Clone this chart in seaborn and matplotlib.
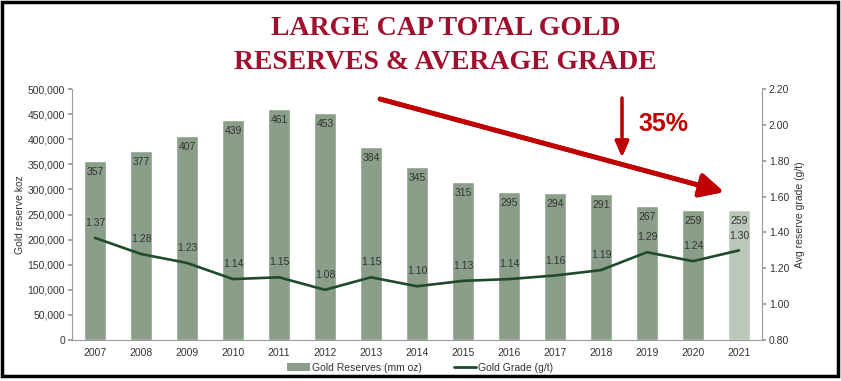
import numpy as np
import pandas as pd
import matplotlib
matplotlib.use("Agg")
import matplotlib.pyplot as plt
import seaborn as sns
from matplotlib.patches import Rectangle, Patch
from matplotlib.lines import Line2D

# data
years = ["2007", "2008", "2009", "2010", "2011", "2012", "2013", "2014",
         "2015", "2016", "2017", "2018", "2019", "2020", "2021"]
reserves = [357, 377, 407, 439, 461, 453, 384, 345, 315, 295, 294, 291, 267, 259, 259]
grade = [1.37, 1.28, 1.23, 1.14, 1.15, 1.08, 1.15, 1.10, 1.13, 1.14, 1.16, 1.19, 1.29, 1.24, 1.30]

BAR = "#8a9e8a"
BAR_LAST = "#bac7ba"
LINE = "#1f4a2b"
RED = "#c00000"
TITLE_RED = "#a0102e"
TXT = "#333333"

sns.set_theme(style="white")
plt.rcParams["font.family"] = ["Liberation Sans", "DejaVu Sans"]

df = pd.DataFrame({"year": years, "reserves_koz": [r * 1000 for r in reserves]})
palette = [BAR] * (len(years) - 1) + [BAR_LAST]

fig = plt.figure(figsize=(8.41, 3.81), dpi=100)
ax = fig.add_axes([0.0856, 0.1076, 0.8204, 0.6584])

sns.barplot(data=df, x="year", y="reserves_koz", hue="year", palette=palette,
            legend=False, width=0.48, saturation=1, ax=ax)
ax.set_ylim(0, 500000)
ax.set_xlim(-0.5, 14.5)
ax.set_yticks(np.arange(0, 500001, 50000))
ax.set_yticklabels([f"{v:,}" for v in range(0, 500001, 50000)])
ax.set_xlabel("")
ax.set_ylabel("Gold reserve koz", fontsize=7.5, color=TXT, labelpad=2)

for i, r in enumerate(reserves):
    ax.text(i, r * 1000 - 12000, str(r), ha="center", va="top", fontsize=7.5, color=TXT)

# minor ticks between the categories on x
ax.set_xticks(np.arange(-0.5, 15, 1), minor=True)
ax.tick_params(axis="x", which="major", length=0, labelsize=7.5, colors=TXT, pad=6)
ax.tick_params(axis="x", which="minor", length=3, color="#999999", direction="out")
ax.tick_params(axis="y", length=3, color="#999999", labelsize=7.5, colors=TXT, pad=2)
for side in ["top", "right"]:
    ax.spines[side].set_visible(False)
for side in ["left", "bottom"]:
    ax.spines[side].set_color("#999999")
    ax.spines[side].set_linewidth(0.8)

ax2 = ax.twinx()
sns.lineplot(x=np.arange(len(grade)), y=grade, color=LINE, linewidth=1.9, ax=ax2)
ax2.set_ylim(0.8, 2.2)
ax2.set_yticks(np.arange(0.8, 2.21, 0.2))
ax2.set_yticklabels([f"{v:.2f}" for v in np.arange(0.8, 2.21, 0.2)])
ax2.set_ylabel("Avg reserve grade (g/t)", fontsize=7.5, color=TXT, labelpad=4)
ax2.tick_params(axis="y", length=3, color="#999999", labelsize=7.5, colors=TXT, pad=2)
for side in ["top", "left", "bottom"]:
    ax2.spines[side].set_visible(False)
ax2.spines["right"].set_color("#999999")
ax2.spines["right"].set_linewidth(0.8)
for i, g in enumerate(grade):
    ax2.text(i, g + 0.055, f"{g:.2f}", ha="center", va="bottom", fontsize=7.5, color=TXT)

# legend below the axis
handles = [Patch(facecolor=BAR, edgecolor="none", label="Gold Reserves (mm oz)"),
           Line2D([0], [0], color=LINE, linewidth=2, label="Gold Grade (g/t)")]
fig.legend(handles=handles, loc="center", bbox_to_anchor=(0.5, 0.035), ncol=2,
           frameon=False, fontsize=7.5, handlelength=2.2, handletextpad=0.2,
           columnspacing=3, labelcolor=TXT)

# title
fig.text(0.53, 0.925, "LARGE CAP TOTAL GOLD", ha="center", va="center",
         fontsize=20, fontweight="bold", color=TITLE_RED, family="Liberation Serif")
fig.text(0.53, 0.835, "RESERVES & AVERAGE GRADE", ha="center", va="center",
         fontsize=20, fontweight="bold", color=TITLE_RED, family="Liberation Serif")

# annotation arrows
fig.add_artist(plt.annotate("", xy=(724, 381 - 192), xytext=(380, 381 - 99),
               xycoords="figure pixels", textcoords="figure pixels",
               arrowprops=dict(arrowstyle="-|>,head_length=1.2,head_width=0.6",
                               color=RED, lw=3.4, shrinkA=0, shrinkB=0)))
fig.add_artist(plt.annotate("", xy=(622, 381 - 157), xytext=(622, 381 - 98),
               xycoords="figure pixels", textcoords="figure pixels",
               arrowprops=dict(arrowstyle="-|>,head_length=0.8,head_width=0.35",
                               color=RED, lw=2.2, shrinkA=0, shrinkB=0)))
fig.text(663 / 841, 1 - 124 / 381, "35%", ha="center", va="center",
         fontsize=18, fontweight="bold", color=RED)

# black frame around the picture
fig.add_artist(Rectangle((0.002, 0.012), 0.994, 0.984, transform=fig.transFigure,
                         fill=False, edgecolor="black", linewidth=2.5))

fig.savefig("out.png", dpi=100)
